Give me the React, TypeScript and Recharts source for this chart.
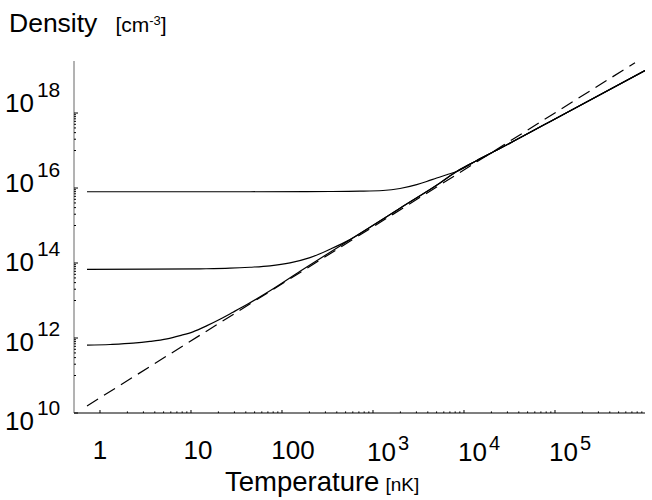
import { LineChart, Line, XAxis, YAxis } from 'recharts';

// temperature in nK, density in cm^-3
const tempTop = [0.72, 44.5, 337, 719, 1288, 1980, 3020, 3890, 5010, 6460, 8300, 13550, 23060, 134000, 975000];
const densTop = [7.96e15, 7.96e15, 8.07e15, 8.22e15, 8.58e15, 9.7e15, 1.23e16, 1.49e16, 1.85e16, 2.26e16, 2.76e16, 5.28e16, 1.03e17, 1.02e18, 1.36e19];

const tempMid = [0.72, 3.54, 12.6, 26.8, 44.5, 73.8, 122.5, 203, 337, 559, 927, 1980, 5450, 8300, 13550, 23060, 134000, 975000];
const densMid = [6.79e13, 6.83e13, 7.0e13, 7.27e13, 7.72e13, 8.42e13, 1.01e14, 1.39e14, 2.33e14, 4.2e14, 8.96e14, 2.89e15, 1.36e16, 2.74e16, 5.28e16, 1.03e17, 1.02e18, 1.36e19];

const tempLow = [0.72, 1.29, 2.31, 3.54, 5.45, 7.57, 10.5, 15.0, 20.8, 28.9, 41.2, 73.8, 158, 559, 927, 1980, 5450, 8300, 13550, 23060, 134000, 975000];
const densLow = [6.42e11, 6.71e11, 7.26e11, 8.11e11, 9.53e11, 1.16e12, 1.46e12, 2.14e12, 3.17e12, 4.87e12, 7.82e12, 1.82e13, 6.04e13, 4.2e14, 8.96e14, 2.89e15, 1.36e16, 2.74e16, 5.28e16, 1.03e17, 1.02e18, 1.36e19];

const tempCritical = [0.72, 757000];
const densCritical = [1.54e10, 2.19e19];

const xMajorTicks = [1, 10, 100, 1000, 10000, 100000];
const yMajorTicks = [1e10, 1e12, 1e14, 1e16, 1e18];
const minorSteps = [2, 3, 4, 5, 6, 7, 8, 9];
const yMinorDecades = [1e11, 1e13, 1e15, 1e17];

const X_DOMAIN = [0.518, 975000];
const Y_DOMAIN = [1e10, 2.44e19];

const FONT = '"Liberation Sans", Arial, Helvetica, sans-serif';

const toPoints = (t: number[], n: number[]) => t.map((v, i) => ({ t: v, n: n[i] }));

const xTicks = [
  ...xMajorTicks,
  ...xMajorTicks.flatMap((d) => minorSteps.map((m) => m * d)),
].sort((a, b) => a - b);

const yTicks = [
  ...yMajorTicks,
  ...yMinorDecades.flatMap((d) => [d, ...minorSteps.map((m) => m * d)]),
].sort((a, b) => a - b);

function labelShift(v: number) {
  if (v === 1) return 0;
  if (v === 10) return 7;
  if (v === 100) return 11;
  return 8.5;
}

function XTick(props: any) {
  const { x, y, payload } = props;
  const v = payload.value;
  const major = xMajorTicks.includes(v);
  const len = major ? 3 : 1.6;
  let label = null;
  if (major) {
    const cx = x + labelShift(v);
    if (v < 1000) {
      label = (
        <text x={cx} y={459} textAnchor="middle" fontSize={26} fontFamily={FONT} fill="#000">
          {String(v)}
        </text>
      );
    } else {
      label = (
        <text x={cx - 14.5} y={461} fontSize={26} fontFamily={FONT} fill="#000">
          10
          <tspan dx={2} dy={-11} fontSize={20}>
            {String(Math.round(Math.log10(v)))}
          </tspan>
        </text>
      );
    }
  }
  return (
    <g>
      <line x1={x} y1={y} x2={x} y2={y - len} stroke="#000" strokeWidth={1} />
      {label}
    </g>
  );
}

function YTick(props: any) {
  const { x, y, payload } = props;
  const v = payload.value;
  const major = yMajorTicks.includes(v);
  const len = major ? 4 : 2;
  return (
    <g>
      <line x1={x} y1={y} x2={x + len} y2={y} stroke="#000" strokeWidth={1} />
      {major && (
        <text x={5} y={112 + (y - 113) * 1.06} fontSize={26} fontFamily={FONT} fill="#000">
          10
          <tspan dx={3} dy={-15} fontSize={21}>
            {String(Math.round(Math.log10(v)))}
          </tspan>
        </text>
      )}
    </g>
  );
}

export default function App() {
  return (
    <div style={{ position: 'absolute', left: 0, top: 0, width: 652, height: 500, background: '#fff' }}>
      <LineChart width={652} height={500} margin={{ top: 61, right: 7, bottom: 0, left: 0 }}>
        <XAxis
          dataKey="t"
          type="number"
          scale="log"
          domain={X_DOMAIN}
          allowDataOverflow
          ticks={xTicks}
          interval={0}
          tick={<XTick />}
          tickLine={false}
          tickSize={0}
          tickMargin={0}
          height={87}
          axisLine={{ stroke: '#000', strokeWidth: 1.2 }}
        />
        <YAxis
          dataKey="n"
          type="number"
          scale="log"
          domain={Y_DOMAIN}
          allowDataOverflow
          ticks={yTicks}
          interval={0}
          tick={<YTick />}
          tickLine={false}
          tickSize={0}
          tickMargin={0}
          width={74}
          axisLine={{ stroke: '#666', strokeWidth: 1 }}
        />
        <Line data={toPoints(tempCritical, densCritical)} dataKey="n" type="linear" stroke="#000" strokeWidth={1.2} strokeDasharray="13 7" dot={false} isAnimationActive={false} />
        <Line data={toPoints(tempLow, densLow)} dataKey="n" type="monotone" stroke="#000" strokeWidth={1.2} dot={false} isAnimationActive={false} />
        <Line data={toPoints(tempMid, densMid)} dataKey="n" type="monotone" stroke="#000" strokeWidth={1.2} dot={false} isAnimationActive={false} />
        <Line data={toPoints(tempTop, densTop)} dataKey="n" type="monotone" stroke="#000" strokeWidth={1.2} dot={false} isAnimationActive={false} />
      </LineChart>
      <svg width={652} height={500} style={{ position: 'absolute', left: 0, top: 0, pointerEvents: 'none' }}>
        <text x={9} y={32} fontSize={26.5} fontFamily={FONT} fill="#000">
          Density
          <tspan dx={18} fontSize={21}>[cm</tspan>
          <tspan dy={-7} fontSize={13}>-3</tspan>
          <tspan dy={7} fontSize={21}>]</tspan>
        </text>
        <text x={225} y={491} fontSize={27.5} fontFamily={FONT} fill="#000">
          Temperature
          <tspan dx={6} fontSize={19}>[nK]</tspan>
        </text>
      </svg>
    </div>
  );
}
